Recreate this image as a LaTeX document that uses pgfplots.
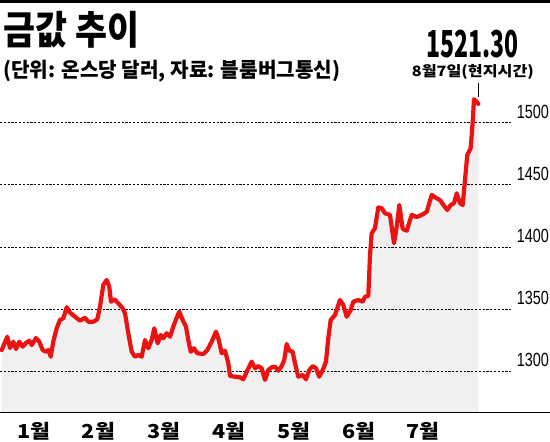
\documentclass[border=0pt]{standalone}
\usepackage{pgfplots}
\pgfplotsset{compat=1.18}
\usepackage{pgfplotstable}
\usepackage{graphicx}
\usepackage{fontspec}
\setmainfont{Liberation Sans}
\newfontfamily\kr{Noto Sans CJK KR}
\definecolor{fillgray}{RGB}{240,240,240}
\definecolor{linered}{RGB}{235,18,18}

\pgfplotstableread{
m v
-0.02 1316.9
0.066 1327.6
0.107 1318.5
0.158 1323.6
0.199 1317.7
0.250 1323.6
0.302 1319.6
0.352 1322.6
0.403 1324.4
0.440 1320.9
0.505 1326.6
0.556 1323.6
0.608 1316.9
0.659 1315.5
0.694 1316.9
0.731 1311.5
0.770 1323.6
0.822 1334.4
0.873 1341.1
0.924 1342.4
0.976 1351.3
1.026 1347.0
1.103 1343.7
1.179 1340.5
1.256 1342.9
1.306 1339.7
1.383 1339.7
1.444 1341.6
1.486 1351.8
1.536 1369.3
1.588 1373.3
1.628 1367.9
1.654 1355.8
1.705 1357.8
1.766 1354.5
1.833 1350.5
1.869 1346.5
1.919 1330.4
1.971 1315.5
2.022 1311.5
2.072 1312.9
2.124 1311.5
2.175 1325.0
2.225 1318.3
2.277 1325.0
2.317 1334.4
2.369 1322.3
2.415 1329.0
2.455 1326.3
2.507 1330.4
2.558 1327.6
2.608 1335.7
2.650 1341.6
2.700 1347.8
2.752 1341.1
2.803 1335.7
2.838 1325.0
2.875 1315.5
2.925 1318.3
2.976 1314.3
3.068 1313.7
3.129 1316.9
3.196 1323.6
3.262 1331.7
3.298 1326.3
3.350 1314.3
3.400 1316.4
3.451 1306.2
3.477 1296.0
3.553 1295.4
3.630 1294.9
3.680 1293.3
3.733 1299.4
3.809 1307.5
3.860 1302.2
3.910 1304.0
3.962 1302.2
4.013 1292.8
4.063 1300.8
4.115 1303.0
4.166 1303.5
4.217 1300.2
4.269 1304.0
4.308 1308.9
4.345 1321.7
4.385 1316.4
4.437 1315.5
4.472 1306.2
4.523 1295.4
4.590 1296.8
4.641 1293.3
4.691 1300.8
4.743 1304.0
4.794 1302.2
4.844 1295.4
4.897 1300.8
4.947 1307.5
4.982 1326.3
5.019 1341.1
5.085 1345.1
5.161 1357.2
5.212 1353.2
5.264 1343.7
5.325 1349.1
5.365 1355.8
5.442 1357.2
5.509 1355.8
5.544 1359.8
5.595 1360.4
5.621 1393.4
5.647 1410.9
5.697 1414.9
5.748 1431.7
5.800 1431.1
5.851 1427.0
5.927 1425.7
5.989 1402.9
6.030 1416.2
6.070 1433.7
6.122 1414.4
6.183 1413.0
6.260 1425.7
6.336 1424.0
6.413 1425.7
6.489 1428.1
6.566 1441.8
6.643 1439.1
6.693 1437.7
6.744 1433.7
6.805 1429.7
6.857 1433.7
6.908 1435.1
6.949 1443.1
7.000 1435.1
7.041 1433.7
7.076 1453.9
7.111 1474.0
7.163 1479.4
7.194 1500.8
7.214 1518.9
7.255 1516.9
7.280 1515.1
}\golddata

\newcommand{\ylab}[2]{\node[anchor=south east, inner sep=0pt] at (549bp,{-(371-(#1-1300)*1.2415)*1bp+4bp}) {\resizebox*{32bp}{13.5bp}{#2}};}
\newcommand{\mlab}[2]{\node[anchor=south, inner sep=0pt] at (#1bp,-440bp) {\resizebox*{33bp}{18bp}{\kr\bfseries #2}};}

\begin{document}
\begin{tikzpicture}
\useasboundingbox (0,0) rectangle (550bp,-442bp);
\fill[white] (0,0) rectangle (550bp,-442bp);
\begin{axis}[
  at={(0bp,-412bp)}, anchor=south west,
  scale only axis, width=550bp, height=322bp,
  xmin=-0.04595, xmax=8.378, ymin=1266.97, ymax=1526.3,
  axis line style={draw=none},
  xtick={0,1,2,3,4,5,6,7}, xticklabels={},
  ytick=\empty,
  xtick pos=lower, tick align=inside,
  major tick length=14bp,
  tick style={black, line width=0.8bp},
]
\addplot[fill=fillgray, draw=none] table[x=m, y=v] {\golddata} \closedcycle;
\foreach \g in {1300,1350,1400,1450,1500}{
  \edef\temp{\noexpand\draw[black, line width=0.6bp, dash pattern=on 2.2bp off 1.6bp] (axis cs:-0.04595,\g) -- (axis cs:7.811,\g);}
  \temp
}
\addplot[linered, line width=4.2bp, line join=round, line cap=round] table[x=m, y=v] {\golddata};
\end{axis}
% bottom axis line and top bar
\draw[black, line width=1bp] (0,-412bp) -- (550bp,-412bp);
\fill[black] (0,0) rectangle (550bp,-3bp);
% titles
\node[anchor=south west, inner sep=0pt] at (3bp,-49bp) {\resizebox*{136bp}{37bp}{\kr\bfseries 금값 추이}};
\node[anchor=south west, inner sep=0pt] at (3bp,-82bp) {\resizebox*{337bp}{22bp}{\kr\bfseries (단위: 온스당 달러, 자료: 블룸버그통신)}};
% annotation
\node[anchor=south west, inner sep=0pt] at (426.7bp,-58bp) {\resizebox*{92bp}{28bp}{\kr\bfseries 1521.30}};
\node[anchor=south west, inner sep=0pt] at (411.7bp,-80bp) {\resizebox*{122bp}{15bp}{\kr\bfseries 8월7일(현지시간)}};
\draw[black, line width=0.8bp] (478.3bp,-83bp) -- (478.3bp,-97bp);
% y labels
\ylab{1300}{1300}
\ylab{1350}{1350}
\ylab{1400}{1400}
\ylab{1450}{1450}
\ylab{1500}{1500}
% month labels
\mlab{34}{1월}
\mlab{98.5}{2월}
\mlab{163.5}{3월}
\mlab{228.5}{4월}
\mlab{293.5}{5월}
\mlab{358.5}{6월}
\mlab{422.5}{7월}
\end{tikzpicture}
\end{document}
